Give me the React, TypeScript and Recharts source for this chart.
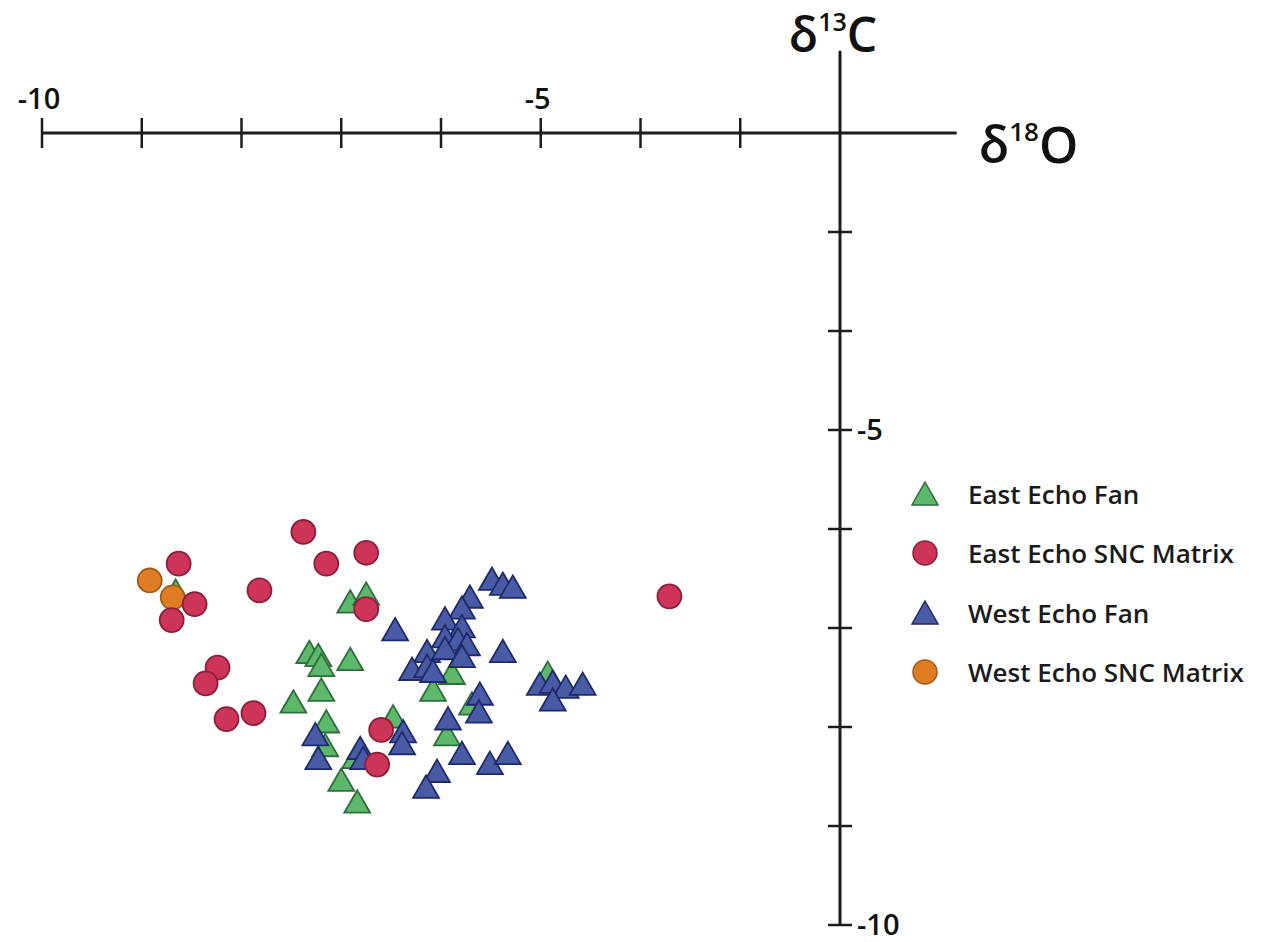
import React from "react"
import {
  ScatterChart,
  Scatter,
  XAxis,
  YAxis,
  ReferenceLine,
  Label,
  Legend,
  Symbols,
} from "recharts"

// [δ18O, δ13C]
const eastEchoFan: [number, number][] = [
  [-8.66, -6.66], [-6.91, -6.77], [-6.75, -6.69], [-7.32, -7.28], [-7.23, -7.31],
  [-7.2, -7.41], [-6.91, -7.35], [-7.2, -7.66], [-7.48, -7.78], [-7.15, -7.98],
  [-7.16, -8.22], [-6.48, -7.93], [-6.86, -8.34], [-7.0, -8.57], [-6.84, -8.79],
  [-5.89, -7.49], [-6.08, -7.66], [-5.69, -7.8], [-5.94, -8.11], [-4.93, -7.49],
]

const eastEchoSnc: [number, number][] = [
  [-8.63, -6.35], [-8.47, -6.76], [-8.7, -6.92], [-7.82, -6.62], [-8.24, -7.4],
  [-8.36, -7.56], [-8.15, -7.92], [-7.88, -7.86], [-7.38, -6.03], [-7.15, -6.35],
  [-6.75, -6.24], [-6.75, -6.81], [-6.6, -8.03], [-6.64, -8.38], [-3.71, -6.68],
]

const westEchoFan: [number, number][] = [
  [-6.46, -7.05], [-5.49, -6.54], [-5.38, -6.59], [-5.28, -6.62], [-5.71, -6.72],
  [-5.79, -6.83], [-5.96, -6.94], [-5.79, -7.02], [-5.96, -7.12], [-5.83, -7.15],
  [-5.74, -7.2], [-6.14, -7.27], [-5.96, -7.24], [-5.79, -7.32], [-6.29, -7.45],
  [-6.14, -7.42], [-6.08, -7.47], [-5.38, -7.27], [-5.61, -7.7], [-5.62, -7.88],
  [-5.93, -7.95], [-6.38, -8.08], [-6.39, -8.2], [-7.26, -8.11], [-7.23, -8.35],
  [-6.81, -8.25], [-6.78, -8.35], [-5.79, -8.3], [-5.51, -8.4], [-5.33, -8.3],
  [-6.04, -8.48], [-6.15, -8.64], [-5.01, -7.6], [-4.88, -7.58], [-4.75, -7.63],
  [-4.58, -7.6], [-4.88, -7.76],
]

const westEchoSnc: [number, number][] = [
  [-8.92, -6.52], [-8.69, -6.69],
]

const xTicks = [-10, -9, -8, -7, -6, -5, -4, -3]
const yTicks = [-3, -4, -5, -6, -7, -8, -9, -10]
const xTickLabels = [-10, -5]
const yTickLabels = [-5, -10]

const AXIS = "#1c1c1c"
const FONT = "'Open Sans', sans-serif"

const series = [
  { name: "East Echo Fan", shape: "triangle", fill: "#5db86c", stroke: "#2f6e3c" },
  { name: "East Echo SNC Matrix", shape: "circle", fill: "#cc3458", stroke: "#8c1f38" },
  { name: "West Echo Fan", shape: "triangle", fill: "#4a5ba6", stroke: "#1f2a6a" },
  { name: "West Echo SNC Matrix", shape: "circle", fill: "#e07d24", stroke: "#a35a14" },
]

const toPoints = (arr: [number, number][]) => arr.map(([x, y]) => ({ x, y }))

const markShape = (type: "triangle" | "circle", fill: string, stroke: string) => (p: any) => (
  <Symbols
    cx={p.cx}
    cy={p.cy}
    type={type}
    size={type === "circle" ? 450 : 290}
    fill={fill}
    stroke={stroke}
    strokeWidth={1.8}
  />
)

function XTick(props: any) {
  const { x, y, payload } = props
  const v = payload.value
  return (
    <g>
      <line x1={x} x2={x} y1={y - 15} y2={y + 15} stroke={AXIS} strokeWidth={2.5} />
      {xTickLabels.includes(v) && (
        <text x={x - 3} y={y - 24} textAnchor="middle" fontSize={29} fontWeight={600} fontFamily={FONT} fill="#111">
          {v}
        </text>
      )}
    </g>
  )
}

function YTick(props: any) {
  const { x, y, payload } = props
  const v = payload.value
  return (
    <g>
      <line x1={x - 12} x2={x + 12} y1={y} y2={y} stroke={AXIS} strokeWidth={2.5} />
      {yTickLabels.includes(v) && (
        <text x={x + 17} y={y} dy="0.36em" textAnchor="start" fontSize={29} fontWeight={600} fontFamily={FONT} fill="#111">
          {v}
        </text>
      )}
    </g>
  )
}

function xTitle(props: any) {
  const { x, y, width } = props.viewBox
  return (
    <text x={x + width + 22} y={y + 30} fontSize={50} fontFamily={FONT} fontWeight={600} fill="#111">
      δ<tspan fontSize={26} dy={-22}>18</tspan>
      <tspan dy={22}>O</tspan>
    </text>
  )
}

function yTitle(props: any) {
  const { x, y } = props.viewBox
  return (
    <text x={x - 7} y={y + 1} textAnchor="middle" fontSize={48} fontFamily={FONT} fontWeight={600} fill="#111">
      δ<tspan fontSize={25} dy={-21}>13</tspan>
      <tspan dy={21}>C</tspan>
    </text>
  )
}

function LegendBox() {
  return (
    <div style={{ fontFamily: FONT }}>
      {series.map((s) => (
        <div key={s.name} style={{ display: "flex", alignItems: "center", height: 59.5 }}>
          <svg width={40} height={30}>
            {s.shape === "circle" ? (
              <circle cx={20} cy={15} r={12} fill={s.fill} stroke={s.stroke} strokeWidth={1.5} />
            ) : (
              <polygon points="20,3 33,26 7,26" fill={s.fill} stroke={s.stroke} strokeWidth={1.5} />
            )}
          </svg>
          <span style={{ marginLeft: 23, fontSize: 26, fontWeight: 600, color: "#1a1a1a", whiteSpace: "nowrap" }}>
            {s.name}
          </span>
        </div>
      ))}
    </div>
  )
}

export default function App() {
  const [eFan, eSnc, wFan, wSnc] = series
  // negative top margin collapses with the body margin so the chart starts at the page top
  return (
    <div style={{ width: 1248, height: 942, marginTop: -8 }}>
      <ScatterChart width={1248} height={942} margin={{ top: 103, right: 356, bottom: 17, left: 34 }}>
        <XAxis
          type="number"
          dataKey="x"
          orientation="top"
          height={30}
          domain={[-10, -2]}
          ticks={xTicks}
          tickSize={0}
          tickMargin={0}
          tickLine={false}
          tick={<XTick />}
          axisLine={{ stroke: AXIS, strokeWidth: 3 }}
        />
        <YAxis
          type="number"
          dataKey="y"
          orientation="right"
          width={60}
          domain={[-10, -2]}
          ticks={yTicks}
          tickSize={0}
          tickMargin={0}
          tickLine={false}
          tick={<YTick />}
          axisLine={{ stroke: AXIS, strokeWidth: 3 }}
        />
        <ReferenceLine
          segment={[{ x: -2, y: -2 }, { x: -0.83, y: -2 }]}
          ifOverflow="visible"
          stroke={AXIS}
          strokeWidth={3}
        >
          <Label content={xTitle} />
        </ReferenceLine>
        <ReferenceLine
          segment={[{ x: -2, y: -2 }, { x: -2, y: -1.17 }]}
          ifOverflow="visible"
          stroke={AXIS}
          strokeWidth={3}
        >
          <Label content={yTitle} />
        </ReferenceLine>
        <Scatter name={eFan.name} data={toPoints(eastEchoFan)}
          shape={markShape("triangle", eFan.fill, eFan.stroke)} fill={eFan.fill} isAnimationActive={false} />
        <Scatter name={wFan.name} data={toPoints(westEchoFan)}
          shape={markShape("triangle", wFan.fill, wFan.stroke)} fill={wFan.fill} isAnimationActive={false} />
        <Scatter name={wSnc.name} data={toPoints(westEchoSnc)}
          shape={markShape("circle", wSnc.fill, wSnc.stroke)} fill={wSnc.fill} isAnimationActive={false} />
        <Scatter name={eSnc.name} data={toPoints(eastEchoSnc)}
          shape={markShape("circle", eSnc.fill, eSnc.stroke)} fill={eSnc.fill} isAnimationActive={false} />
        <Legend
          layout="horizontal"
          verticalAlign="middle"
          align="center"
          content={<LegendBox />}
          wrapperStyle={{ left: 897, top: 464, width: 360 }}
        />
      </ScatterChart>
    </div>
  )
}
